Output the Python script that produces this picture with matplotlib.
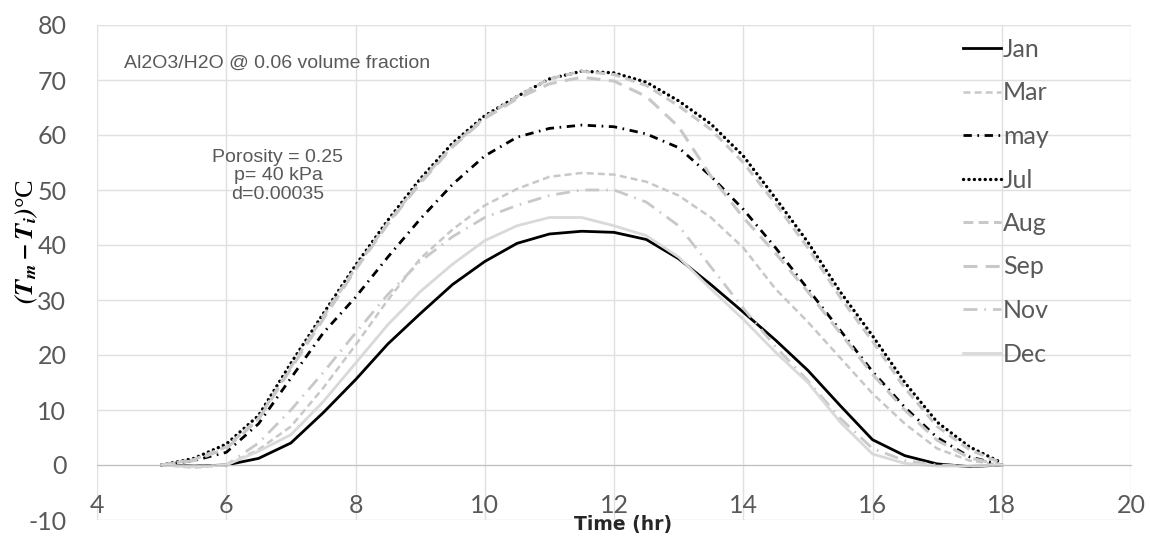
import matplotlib
matplotlib.use("Agg")
import matplotlib.pyplot as plt

plt.rcParams['lines.scale_dashes'] = False
plt.rcParams['mathtext.fontset'] = 'stix'
plt.rcParams['axes.unicode_minus'] = False

hours = [5, 5.5, 6, 6.5, 7, 7.5, 8, 8.5, 9, 9.5, 10, 10.5, 11, 11.5, 12,
         12.5, 13, 13.5, 14, 14.5, 15, 15.5, 16, 16.5, 17, 17.5, 18]

jan = [0, -0.2, 0, 1.2, 4, 9.5, 15.5, 22, 27.5, 32.8, 37, 40.3, 42, 42.5, 42.3,
       41, 37.5, 32.8, 27.8, 22.7, 17.2, 10.8, 4.6, 1.7, 0.2, -0.3, 0]
mar = [0, -0.5, 0, 2.8, 7, 14, 21.8, 30, 37.5, 42.8, 47.2, 50.2, 52.4, 53.1, 52.8,
       51.5, 49, 45, 39.5, 32, 26, 19.5, 13, 7.5, 3, 0.8, 0]
may = [0, 0.8, 2.3, 7.5, 15.8, 24, 30.5, 37.8, 44.7, 51, 56.2, 59.6, 61.2, 61.8, 61.5,
       60.2, 57.7, 52.5, 46.5, 39.5, 32, 24.5, 17, 10.5, 5, 1.5, 0]
jul = [0, 1.2, 3.8, 9, 18.5, 27.5, 36.3, 44.5, 52, 58.5, 63.5, 67, 70.2, 71.6, 71.3,
       69.6, 66.2, 62, 56.2, 48.5, 40.5, 31.5, 23.5, 15, 7.8, 3.3, 0.4]
aug = [0, 1, 3.3, 8.5, 17.8, 27, 35.8, 44, 51.5, 58, 63.2, 67, 70.2, 71.6, 71,
       69, 65.3, 61, 55, 47.5, 39.5, 30.5, 22.5, 14, 7, 2.8, 0.3]
sep = [0, 0.8, 3, 8.3, 17.5, 26.5, 35.5, 43.8, 51.2, 57.8, 63, 66.6, 69.3, 70.5, 69.8,
       67, 61.5, 52.5, 45, 38.5, 31.5, 24, 16.5, 10, 4.5, 1.3, 0]
nov = [0, -0.3, 0, 4, 10, 16.8, 24, 31, 37, 41.5, 45, 47.2, 49, 50, 50,
       47.8, 43.5, 36, 28.5, 21.5, 15.3, 8.5, 3, 0.8, 0, -0.2, 0]
dec = [0, -0.3, 0, 2.5, 5.5, 11.5, 18.5, 25.5, 31.5, 36.5, 40.8, 43.5, 45, 45, 43.5,
       41.7, 37.8, 32, 26.5, 20.5, 15, 7.8, 2, 0.3, -0.2, -0.2, 0]

gray_txt = '#595959'

fig = plt.figure(figsize=(11.51, 5.37), dpi=100)
ax = fig.add_axes([97/1151, 1-520/537, (1131-97)/1151, (520-25)/537])

ax.plot(hours, jan, color='black', lw=2, label='Jan')
ax.plot(hours, mar, color='#c8c8c8', lw=1.8, dashes=(5, 3), label='Mar')
ax.plot(hours, may, color='black', lw=2, dashes=(6, 4, 1.2, 4), label='may')
ax.plot(hours, jul, color='black', lw=2.4, dashes=(0.1, 3.8),
        dash_capstyle='round', label='Jul')
ax.plot(hours, aug, color='#c8c8c8', lw=2.2, dashes=(7, 4), label='Aug')
ax.plot(hours, sep, color='#c8c8c8', lw=2.2, dashes=(10, 6), label='Sep')
ax.plot(hours, nov, color='#c8c8c8', lw=2, dashes=(10, 5, 1.2, 5), label='Nov')
ax.plot(hours, dec, color='#d9d9d9', lw=2, label='Dec')

ax.set_xlim(4, 20)
ax.set_ylim(-10, 80)
ax.set_xticks(range(4, 21, 2))
ax.set_yticks(range(-10, 81, 10))
ax.grid(True, color='#e0e0e0', lw=1)
ax.set_axisbelow(True)
for s in ['top', 'right', 'left']:
    ax.spines[s].set_visible(False)
ax.spines['bottom'].set_position(('data', 0))
ax.spines['bottom'].set_color('#bfbfbf')
ax.tick_params(axis='x', length=0, pad=21, labelsize=18, labelcolor=gray_txt)
ax.tick_params(axis='y', length=0, pad=22, labelsize=18, labelcolor=gray_txt)
for lab in ax.get_xticklabels() + ax.get_yticklabels():
    lab.set_fontfamily('Lato')

ax.set_ylabel(r'$\mathbfit{(T_m-T_i)}$°C', fontsize=19,
              fontfamily='Liberation Serif')
ax.yaxis.set_label_coords((40-97)/(1131-97), (520-242)/(520-25))
ax.set_xlabel('Time (hr)', fontsize=13.5, fontweight='bold', color='#262626')
ax.xaxis.set_label_coords((623-97)/(1131-97), 0.01)

fig.text(277/1151, 1-63/537, 'Al2O3/H2O @ 0.06 volume fraction',
         fontsize=14, color=gray_txt, fontfamily='Liberation Sans',
         ha='center', va='center')
fig.text(278/1151, 1-176/537, 'Porosity = 0.25\np= 40 kPa\nd=0.00035',
         fontsize=14, color=gray_txt, fontfamily='Liberation Sans',
         ha='center', va='center', linespacing=1.12)

leg = ax.legend(loc='upper left', bbox_to_anchor=(963/1151, 1-38/537),
                bbox_transform=fig.transFigure, frameon=False,
                prop={'family': 'Lato', 'size': 18}, handlelength=1.5,
                handletextpad=0.1, labelspacing=0.82, borderpad=0,
                borderaxespad=0)
for t in leg.get_texts():
    t.set_color(gray_txt)

fig.savefig('out.png', dpi=100)
